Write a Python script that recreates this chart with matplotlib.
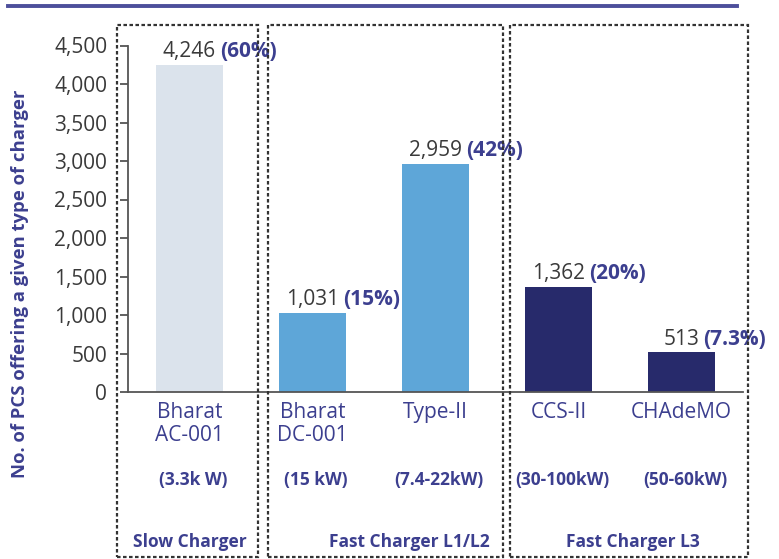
import matplotlib
matplotlib.use("Agg")
import matplotlib.pyplot as plt
from matplotlib.patches import Rectangle
from matplotlib.lines import Line2D
from matplotlib.transforms import blended_transform_factory

plt.rcParams['font.family'] = ['Open Sans', 'DejaVu Sans']

# data
chargers = ['Bharat\nAC-001', 'Bharat\nDC-001', 'Type-II', 'CCS-II', 'CHAdeMO']
ratings = ['(3.3k W)', '(15 kW)', '(7.4-22kW)', '(30-100kW)', '(50-60kW)']
counts = [4246, 1031, 2959, 1362, 513]
shares = ['(60%)', '(15%)', '(42%)', '(20%)', '(7.3%)']
bar_colors = ['#dbe3ec', '#5ea6d8', '#5ea6d8', '#272a6b', '#272a6b']
groups = ['Slow Charger', 'Fast Charger L1/L2', 'Fast Charger L3']
yticks = list(range(0, 4501, 500))

BLUE = '#3c3f8f'
GREY = '#3a3a3a'

W, H = 779, 559
fig = plt.figure(figsize=(W / 100, H / 100), dpi=100)
ax = fig.add_axes([128 / W, 1 - 392 / H, (743 - 128) / W, (392 - 45.5) / H])

x = list(range(len(chargers)))
ax.bar(x, counts, width=0.55, color=bar_colors)
ax.set_xlim(-0.5, 4.5)
ax.set_ylim(0, 4500)
ax.set_yticks(yticks)
ax.set_yticklabels([f'{v:,}' for v in yticks], fontsize=15, color=GREY)
ax.tick_params(axis='y', length=6, width=1.3, color='#555555', pad=9)
ax.set_xticks([])
for s in ['top', 'right']:
    ax.spines[s].set_visible(False)
for s in ['left', 'bottom']:
    ax.spines[s].set_color('#555555')
    ax.spines[s].set_linewidth(1.3)

# value labels: count in grey, share in bold blue right after it
for xi, c, p in zip(x, counts, shares):
    t = ax.annotate(f'{c:,}', xy=(xi, c), xytext=(0, 2), textcoords='offset points',
                    ha='center', va='bottom', fontsize=15, color=GREY)
    ax.annotate(p, xy=(1, 0), xycoords=t, xytext=(3, 0), textcoords='offset points',
                ha='left', va='bottom', fontsize=15, color=BLUE, fontweight='bold')

# category labels under the axis
tr = blended_transform_factory(ax.transData, fig.transFigure)
for xi, name, r in zip(x, chargers, ratings):
    ax.text(xi, 1 - 402 / H, name, transform=tr, ha='center', va='top',
            fontsize=15, color=BLUE, linespacing=1.15)
    ax.text(xi + 0.03, 1 - 480 / H, r, transform=tr, ha='center', va='center',
            fontsize=12.5, color=BLUE, fontweight='bold')

group_x = [190, 409, 633]
for gx, g in zip(group_x, groups):
    fig.text(gx / W, 1 - 542 / H, g, ha='center', va='center',
             fontsize=12.5, color=BLUE, fontweight='bold')

fig.text(20 / W, 1 - 284 / H, 'No. of PCS offering a given type of charger',
         rotation=90, ha='center', va='center', fontsize=13.3,
         color=BLUE, fontweight='bold')

# dashed group boxes
for x0, x1 in [(117, 258), (268, 503), (510, 748)]:
    fig.patches.append(Rectangle((x0 / W, 1 - 557 / H), (x1 - x0) / W, (557 - 25) / H,
                                 transform=fig.transFigure, fill=False,
                                 edgecolor='#333333', linewidth=1.6,
                                 linestyle=(0, (1.6, 1.1))))

# header rule
fig.lines.append(Line2D([8 / W, 737 / W], [1 - 6 / H, 1 - 6 / H], transform=fig.transFigure,
                        color='#4d4f9b', linewidth=2.8))

fig.savefig('out.png', dpi=100)
